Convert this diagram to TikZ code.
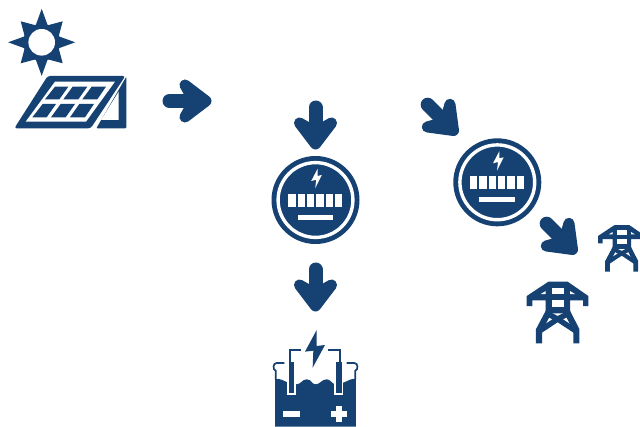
\documentclass[tikz,border=0pt]{standalone}
\definecolor{ink}{HTML}{164273}
\newcommand{\ArrowIcon}[2]{%
  \begin{scope}[shift={(#1)},rotate=#2]
    \draw[ink,line width=14pt,line cap=round] (-36.5,0) -- (-6,0);
    \draw[ink,line width=11pt,line cap=round,line join=round,fill=ink] (-21,-16) -- (0,0) -- (-21,16) -- (-12,0) -- cycle;
  \end{scope}}
\newcommand{\MeterIcon}[1]{%
  \begin{scope}[shift={(#1)}]
    \fill[ink] (0,0) circle (44);
    \draw[white,line width=3.4pt] (0,0) circle (37.4);
    \foreach \k in {0,...,5}{\fill[white] (-27.3+9.33*\k,-6) rectangle ++(7.4,13);}
    \fill[white] (-18,15) rectangle (17.5,20);
    \fill[white] (2,-31) -- (-4.3,-19) -- (0.7,-20.3) -- (-0.3,-11.7) -- (6.3,-25) -- (2,-24) -- cycle;
  \end{scope}}
\newcommand{\TowerIcon}[3]{% centre-top position, scale, unit
  \begin{scope}[shift={(#1)},x=#2pt,y=-#2pt]
    \fill[ink] (-93,43) -- (-28,0) -- (30,0) -- (92,43) -- (92,73) -- (76,73) -- (76,56) -- (37,56) -- (37,95) -- (-36,95) -- (-36,56) -- (-76,56) -- (-76,73) -- (-93,73) -- cycle;
    \fill[white] (-18,18) rectangle (19,38);
    \fill[white] (-18,55) rectangle (19,75);
    \fill[white] (-51,37) -- (-36,28) -- (-36,37) -- cycle;
    \fill[white] (37,28) -- (52,37) -- (37,37) -- cycle;
    \draw[ink,line width=6.2*#3,line join=miter] (-27,90) -- (-56,145) -- (-56,185);
    \draw[ink,line width=6.2*#3,line join=miter] (28,90) -- (56,145) -- (56,185);
    \draw[ink,line width=5.4*#3] (-53,147) -- (0,112) -- (53,147);
    \draw[ink,line width=5.4*#3] (-33,95) -- (0,112) -- (33,95);
  \end{scope}}
\begin{document}
\begin{tikzpicture}[x=1pt,y=-1pt]
\clip (0,0) rectangle (640,426);
\fill[white] (0,0) rectangle (640,426);
% sun
\begin{scope}[shift={(41.7,42.3)}]
  \fill[ink] (0,-33.5) -- (6,-17) -- (21,-21) -- (17,-6) -- (33.5,0) -- (17,6) -- (21,21) -- (6,17) -- (0,33.5) -- (-6,17) -- (-21,21) -- (-17,6) -- (-33.5,0) -- (-17,-6) -- (-21,-21) -- (-6,-17) -- cycle;
  \fill[ink] (0,0) circle (18.5);
  \fill[white] (0,0) circle (13.3);
\end{scope}
% solar panel (coordinates read at 3x)
\begin{scope}[x=0.3333pt,y=-0.3333pt]
  \fill[ink,rounded corners=2.5pt] (143,228) -- (376,228) -- (272,385) -- (43,385) -- cycle;
  \fill[white] (77,365) -- (165,245) -- (345,245) -- (258,365) -- cycle;
  \fill[ink] (135,298) -- (165,260) -- (205,260) -- (178,298) -- cycle;
  \fill[ink] (190,298) -- (218,260) -- (262,260) -- (235,298) -- cycle;
  \fill[ink] (247,298) -- (275,260) -- (318,260) -- (292,298) -- cycle;
  \fill[ink] (97,352) -- (128,312) -- (168,312) -- (140,352) -- cycle;
  \fill[ink] (153,352) -- (182,312) -- (225,312) -- (197,352) -- cycle;
  \fill[ink] (210,352) -- (238,312) -- (282,312) -- (255,352) -- cycle;
  \fill[white] (381,236) -- (381,250) -- (290,392) -- (272,392) -- cycle;
  \fill[ink,rounded corners=1pt] (379,230) -- (379,385) -- (289,385) -- cycle;
  \fill[white] (356,275) -- (356,360) -- (303,360) -- cycle;
\end{scope}
% arrows
\ArrowIcon{206,101}{0}
\ArrowIcon{315.5,144}{-90}
\ArrowIcon{315.5,306}{-90}
\ArrowIcon{453.5,130.5}{-45}
\ArrowIcon{572.5,249.5}{-45}
% meters
\MeterIcon{315.5,200}
\MeterIcon{497.3,182.3}
% battery (coordinates read at 3x)
\begin{scope}[shift={(260,320)},x=0.3333pt,y=-0.3333pt]
  \fill[ink] (45,178) .. controls (60,173) and (70,183) .. (85,188) -- (108,193) .. controls (125,193) and (125,178) .. (140,178) .. controls (155,178) and (155,193) .. (167,193) .. controls (180,193) and (185,178) .. (200,178) .. controls (212,178) and (215,191) .. (225,193) -- (250,188) .. controls (265,183) and (275,173) .. (288,178) -- (288,320) -- (45,320) -- cycle;
  \fill[white] (81,165) rectangle (108,226);
  \fill[white] (223,165) rectangle (250,226);
  \fill[ink] (87,125) rectangle (103,220);
  \fill[ink] (228,125) rectangle (245,220);
  \draw[ink,line width=1.7pt] (90,125) -- (90,90) -- (122,90);
  \draw[ink,line width=1.7pt] (205,90) -- (240,90) -- (240,125);
  \draw[ink,line width=1.7pt] (73,129) -- (50,129) .. controls (38,129) and (38,150) .. (47,152) -- (47,180);
  \draw[ink,line width=1.7pt] (260,129) -- (283,129) .. controls (295,129) and (295,150) .. (286,152) -- (286,180);
  \fill[ink] (170,30) -- (135,95) -- (160,92) -- (158,143) -- (195,75) -- (170,78) -- cycle;
  \fill[white] (70,273) rectangle (120,290);
  \fill[white] (212,273) rectangle (262,290);
  \fill[white] (228,257) rectangle (246,305);
\end{scope}
% towers
\TowerIcon{557.7,281.7}{0.3333}{1pt}
\TowerIcon{621.7,225}{0.2523}{0.757pt}
\end{tikzpicture}
\end{document}
